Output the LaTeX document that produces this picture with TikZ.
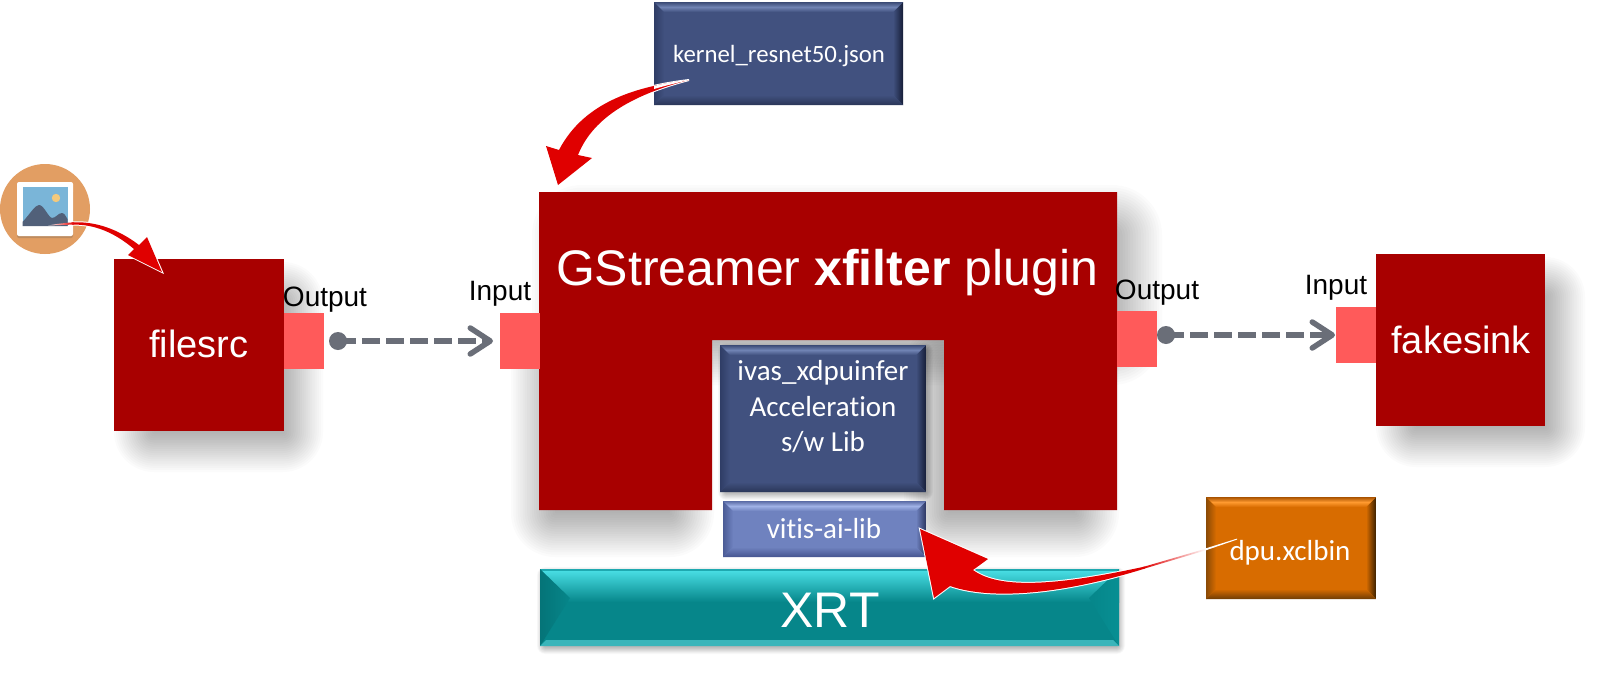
\documentclass[tikz,border=0pt]{standalone}
\usepackage{fontspec}
\setmainfont{Liberation Sans}
\newfontfamily\calfont[Ligatures=NoCommon]{Carlito}
\usetikzlibrary{arrows.meta,calc}
\definecolor{blockred}{HTML}{A80000}
\definecolor{portred}{HTML}{FF5A5A}
\definecolor{flowgrey}{HTML}{6A6E78}
\definecolor{arrowred}{HTML}{E00000}
\definecolor{iconorange}{HTML}{E29E63}
\definecolor{iconshade}{HTML}{BE8C5F}
\definecolor{iconsky}{HTML}{7AB5D8}
\definecolor{iconsun}{HTML}{F3C97C}
\definecolor{iconhill}{HTML}{516079}
\newcommand\softshadow[5]{% x1 y1 x2 y2 blur
  \foreach \i in {0,...,19}{
    \pgfmathsetmacro\d{#5*(1-\i/9.5)}
    \pgfmathsetmacro\r{max(0.5,#5+\d)}
    \fill[black,fill opacity=0.017,rounded corners=\r pt]
      ({#1-\d},{#2-\d}) rectangle ({#3+\d},{#4+\d});
  }}
\newcommand\redarrow[1]{\draw[white,line width=2pt,line join=miter] #1; \fill[arrowred] #1;}
\tikzset{
  block/.style={fill=blockred,inner sep=0pt,outer sep=0pt},
  portbox/.style={fill=portred,inner sep=0pt,outer sep=0pt,minimum width=40pt,minimum height=56pt},
  dotnode/.style={circle,fill=flowgrey,inner sep=0pt,outer sep=0pt,minimum size=18pt},
  flow/.style={draw=flowgrey,line width=5.5pt,dash pattern=on 18pt off 6pt,
    -{Straight Barb[length=20pt,width=26pt,line width=5.5pt,round]}},
  lbl/.style={anchor=base,inner sep=0pt,text=black},
  bigw/.style={anchor=base,inner sep=0pt,text=white},
  calw/.style={anchor=base,inner sep=0pt,text=white,align=center},
  bevel/.style n args={7}{% outer, light, left, right, bottom, face, depth
    inner sep=0pt,outer sep=0pt,fill=#6,
    path picture={
      \coordinate (nw) at (path picture bounding box.north west);
      \coordinate (ne) at (path picture bounding box.north east);
      \coordinate (sw) at (path picture bounding box.south west);
      \coordinate (se) at (path picture bounding box.south east);
      \shade[left color=#3,right color=#6] (nw) -- ($(nw)+(#7,#7)$) -- ($(sw)+(#7,-#7)$) -- (sw) -- cycle;
      \shade[left color=#6,right color=#4] (ne) -- ($(ne)+(-#7,#7)$) -- ($(se)+(-#7,-#7)$) -- (se) -- cycle;
      \shade[top color=#6,bottom color=#5] (sw) -- ($(sw)+(#7,-#7)$) -- ($(se)+(-#7,-#7)$) -- (se) -- cycle;
      \shade[top color=#1,bottom color=#6,middle color=#2] (nw) -- ($(nw)+(#7,#7)$) -- ($(ne)+(-#7,#7)$) -- (ne) -- cycle;
    }},
  navybox/.style={bevel={navyA}{navyB}{navyC}{navyD}{navyE}{navyF}{10}},
}
\definecolor{navyA}{HTML}{3A4A75}\definecolor{navyB}{HTML}{7083B3}\definecolor{navyC}{HTML}{2F3D66}\definecolor{navyD}{HTML}{161E38}\definecolor{navyE}{HTML}{2A3658}\definecolor{navyF}{HTML}{41517F}
\definecolor{viA}{HTML}{5A6BA5}\definecolor{viB}{HTML}{A0B2E6}\definecolor{viC}{HTML}{4C5C96}\definecolor{viD}{HTML}{2B3560}\definecolor{viE}{HTML}{465590}\definecolor{viF}{HTML}{6F82BF}
\definecolor{orA}{HTML}{A85200}\definecolor{orB}{HTML}{FF9A30}\definecolor{orC}{HTML}{8A4A05}\definecolor{orD}{HTML}{3A2000}\definecolor{orE}{HTML}{6E3C05}\definecolor{orF}{HTML}{D86C00}
\definecolor{xrtA}{HTML}{1FA9B0}\definecolor{xrtB}{HTML}{47DCE2}\definecolor{xrtC}{HTML}{057478}\definecolor{xrtD}{HTML}{078F93}\definecolor{xrtE}{HTML}{3AB5BA}\definecolor{xrtF}{HTML}{06868A}
\begin{document}
\begin{tikzpicture}[x=1pt,y=-1pt]
\fill[white] (0,0) rectangle (1611,683);
\useasboundingbox (0,0) rectangle (1611,683);
% shadows
\softshadow{134}{282}{303}{452}{20}
\softshadow{1396}{277}{1565}{447}{20}
\softshadow{557}{210}{1137}{360}{25}
\softshadow{533}{345}{692}{535}{22}
\softshadow{926}{345}{1097}{535}{22}
\softshadow{541}{571}{1121}{650}{4}
\softshadow{722}{347}{929}{496}{4}
% main block
\fill[blockred] (539,192) -- (1117,192) -- (1117,510) -- (944,510) -- (944,340) -- (712,340) -- (712,510) -- (539,510) -- cycle;
% side blocks
\node[block,minimum width=170pt,minimum height=172pt] (filesrc) at (199,345) {};
\node[block,minimum width=169pt,minimum height=172pt] (fakesink) at (1460.5,340) {};
% ports
\node[portbox] (outA) at (304,341) {};
\node[portbox] (inB) at (520,341) {};
\node[portbox] (outB) at (1137,339) {};
\node[portbox] (inC) at (1356,335) {};
% connectors
\node[dotnode] (dotA) at (338,341) {};
\node[dotnode] (dotB) at (1166,335) {};
\draw[flow,shorten >=7pt] (dotA.center) -- (inB.west);
\draw[flow,shorten >=1pt] (dotB.center) -- (inC.west);
% bevelled boxes
\node[navybox,minimum width=249pt,minimum height=103pt] (kernel) at (778.5,53.5) {};
\node[navybox,minimum width=206pt,minimum height=147pt] (ivas) at (823,418.5) {};
\node[bevel={viA}{viB}{viC}{viD}{viE}{viF}{10},minimum width=203pt,minimum height=56pt] (vitis) at (824.5,529) {};
\node[bevel={orA}{orB}{orC}{orD}{orE}{orF}{10},minimum width=170pt,minimum height=102pt] (dpu) at (1291,548) {};
\node[inner sep=0pt,outer sep=0pt,fill=xrtF,minimum width=579pt,minimum height=77pt] (xrt) at (829.5,607.5) {};
\shade[top color=xrtB,bottom color=xrtF] (540,571) rectangle (1119,602);
\fill[xrtA] (540,569) rectangle (1119,571);
\shade[left color=xrtC,right color=xrtF] (540,569) -- (570,598) -- (540,646) -- cycle;
\shade[left color=xrtF,right color=xrtD] (1119,569) -- (1089,598) -- (1119,646) -- cycle;
\fill[xrtE] (540,646) -- (546,640) -- (1113,640) -- (1119,646) -- cycle;
% icon
\node[circle,fill=iconorange,inner sep=0pt,minimum size=90pt] (icon) at (45,209) {};
\fill[iconshade,rounded corners=2pt] (17,190) rectangle (73,238);
\fill[white,rounded corners=2pt] (17,182) rectangle (73,236);
\fill[iconsky] (22.5,187) rectangle (67.5,226);
\fill[iconsun] (56,198) circle (4.2);
\fill[iconhill] (22.5,222) .. controls (30,214) and (35,205) .. (39,205) .. controls (44,205) and (48,217) .. (52,218) .. controls (56,218) and (58,213) .. (62,213) .. controls (64,213) and (66,216) .. (67.5,219) -- (67.5,226) -- (22.5,226) -- cycle;
% red curved arrows
\redarrow{(72,222.4) .. controls (95,221) and (118,229) .. (139,245) -- (147,237) -- (162,272) -- (128,255) -- (134,249) .. controls (115,233) and (95,224) .. (72,224.6) -- cycle}
\shade[left color=white,right color=arrowred] (48,225.5) .. controls (56,224) and (65,222.8) .. (74,222.3) -- (74,224.6) .. controls (65,224.8) and (56,225.2) .. (48,225.5) -- cycle;
\redarrow{(689,80) .. controls (640,86) and (585,100) .. (559,150) -- (546,146) -- (558,185) -- (592,158) -- (578,155) .. controls (590,125) and (620,98) .. (689,80) -- cycle}
\fill[white] (689,79.6) .. controls (678,81) and (666,83) .. (654,86) -- (654,89) .. controls (666,85.5) and (678,82.5) .. (689,80.2) -- cycle;
\redarrow{(920,529) -- (988,559) -- (973,570) .. controls (1000,590) and (1060,585) .. (1145,566.5) -- (1145,568.5) .. controls (1060,595) and (990,600) .. (950,586) -- (934,598) -- cycle}
\shade[left color=arrowred,right color=white] (1143,567) -- (1206,548.6) -- (1206,550.2) -- (1143,569) -- cycle;
\fill[white] (1205,548.6) -- (1237,538.6) -- (1237,539.6) -- (1205,550.6) -- cycle;
% text
\node[lbl,font=\fontsize{28}{30}\selectfont] (tOutA) at (325,306) {Output};
\node[lbl,font=\fontsize{28}{30}\selectfont] (tInB) at (500,300) {Input};
\node[lbl,font=\fontsize{28}{30}\selectfont] (tOutB) at (1157,299) {Output};
\node[lbl,font=\fontsize{28}{30}\selectfont] (tInC) at (1336,294) {Input};
\node[bigw,font=\fontsize{38}{40}\selectfont] (tFile) at (199,357) {filesrc};
\node[bigw,font=\fontsize{38}{40}\selectfont] (tFake) at (1461,353) {fakesink};
\node[bigw,font=\fontsize{50}{52}\selectfont] (tMain) at (827,285) {GStreamer \textbf{xfilter} plugin};
\node[bigw,font=\fontsize{50}{52}\selectfont] (tXrt) at (830,627) {XRT};
\node[calw,font=\calfont\fontsize{24.8}{26}\selectfont] (tKernel) at (779,62) {kernel\_resnet50.json};
\node[calw,font=\calfont\fontsize{29}{30}\selectfont] (tIvasA) at (823,380) {ivas\_xdpuinfer};
\node[calw,font=\calfont\fontsize{29}{30}\selectfont] (tIvasB) at (823,416) {Acceleration};
\node[calw,font=\calfont\fontsize{29}{30}\selectfont] (tIvasC) at (823,451) {s/w Lib};
\node[calw,font=\calfont\fontsize{29}{30}\selectfont] (tVitis) at (824,538) {vitis-ai-lib};
\node[calw,font=\calfont\fontsize{29}{30}\selectfont] (tDpu) at (1290,560) {dpu.xclbin};
\end{tikzpicture}
\end{document}
